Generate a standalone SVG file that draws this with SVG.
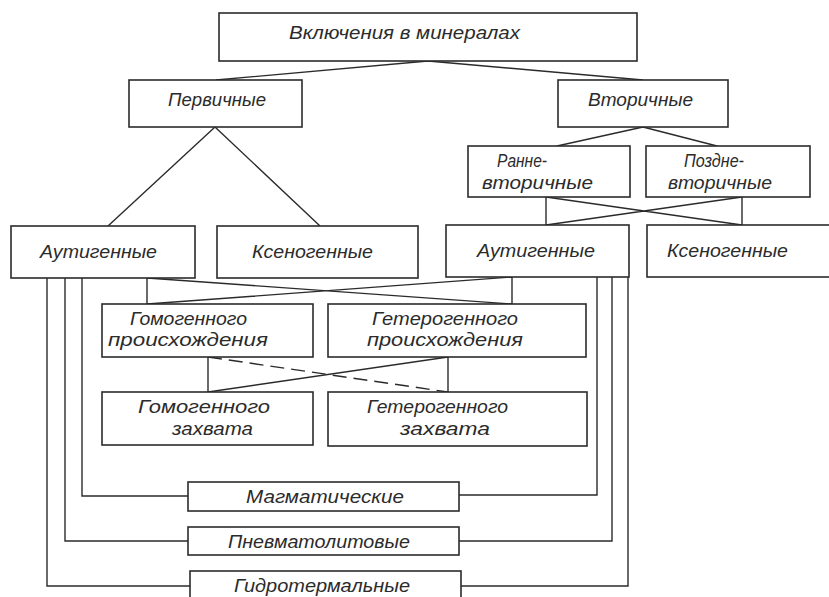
<svg xmlns="http://www.w3.org/2000/svg" width="829" height="597" viewBox="0 0 829 597">
<style>
.b{fill:#fff;stroke:#2b2b2b;stroke-width:1.6}
.t{font-family:"Liberation Sans","DejaVu Sans",sans-serif;font-style:italic;font-size:18px;fill:#2b2b2b}
.c{fill:none;stroke:#2b2b2b;stroke-width:1.4}
.d{fill:none;stroke:#2b2b2b;stroke-width:1.4;stroke-dasharray:14 7}
</style>
<rect width="829" height="597" fill="#fff"/>
<g id="connectors">
<path class="c" d="M428,61 L216,80 M428,61 L643,80"/>
<path class="c" d="M215,127 L108,226 M215,127 L320,226"/>
<path class="c" d="M643,127 L557,146 M643,127 L717,146"/>
<path class="c" d="M546,197 V225 M742,197 V225 M546,197 L742,225 M546,225 L742,197"/>
<path class="c" d="M147,278 V304 M512,277 V304 M147,278 L512,304 M147,304 L512,277"/>
<path class="c" d="M208,357 V392 M448,357 V392 M208,392 L448,357"/>
<path class="d" d="M208,357 L448,392"/>
<path class="c" d="M82,278 V496 H188 M65,278 V541 H188 M47,278 V586 H190"/>
<path class="c" d="M597,277 V495 H459 M612,277 V541 H459 M628,277 V586 H461"/>
</g>
<g id="n-root"><rect class="b" x="219" y="13" width="418" height="48"/><text class="t" x="289" y="39" textLength="231" lengthAdjust="spacingAndGlyphs">Включения в минералах</text></g>
<g id="n-perv"><rect class="b" x="129" y="80" width="173" height="47"/><text class="t" x="168" y="106" textLength="98" lengthAdjust="spacingAndGlyphs">Первичные</text></g>
<g id="n-vtor"><rect class="b" x="558" y="80" width="170" height="47"/><text class="t" x="588" y="106" textLength="105" lengthAdjust="spacingAndGlyphs">Вторичные</text></g>
<g id="n-ranne"><rect class="b" x="468" y="146" width="162" height="51"/><text class="t" x="497" y="167" textLength="50" lengthAdjust="spacingAndGlyphs">Ранне-</text><text class="t" x="482" y="189" textLength="111" lengthAdjust="spacingAndGlyphs">вторичные</text></g>
<g id="n-pozdne"><rect class="b" x="646" y="146" width="164" height="51"/><text class="t" x="684" y="167" textLength="60" lengthAdjust="spacingAndGlyphs">Поздне-</text><text class="t" x="668" y="189" textLength="104" lengthAdjust="spacingAndGlyphs">вторичные</text></g>
<g id="n-aut1"><rect class="b" x="11" y="226" width="184" height="52"/><text class="t" x="40" y="258" textLength="117" lengthAdjust="spacingAndGlyphs">Аутигенные</text></g>
<g id="n-ksen1"><rect class="b" x="217" y="226" width="201" height="52"/><text class="t" x="252" y="258" textLength="121" lengthAdjust="spacingAndGlyphs">Ксеногенные</text></g>
<g id="n-aut2"><rect class="b" x="446" y="225" width="183" height="52"/><text class="t" x="477" y="257" textLength="118" lengthAdjust="spacingAndGlyphs">Аутигенные</text></g>
<g id="n-ksen2"><rect class="b" x="647" y="225" width="186" height="52"/><text class="t" x="667" y="257" textLength="121" lengthAdjust="spacingAndGlyphs">Ксеногенные</text></g>
<g id="n-gomo-pr"><rect class="b" x="102" y="304" width="211" height="53"/><text class="t" x="130" y="325" textLength="117" lengthAdjust="spacingAndGlyphs">Гомогенного</text><text class="t" x="108" y="346" textLength="160" lengthAdjust="spacingAndGlyphs">происхождения</text></g>
<g id="n-getero-pr"><rect class="b" x="328" y="304" width="258" height="53"/><text class="t" x="372" y="325" textLength="146" lengthAdjust="spacingAndGlyphs">Гетерогенного</text><text class="t" x="367" y="346" textLength="156" lengthAdjust="spacingAndGlyphs">происхождения</text></g>
<g id="n-gomo-zah"><rect class="b" x="102" y="392" width="211" height="53"/><text class="t" x="138" y="413" textLength="132" lengthAdjust="spacingAndGlyphs">Гомогенного</text><text class="t" x="172" y="435" textLength="81" lengthAdjust="spacingAndGlyphs">захвата</text></g>
<g id="n-getero-zah"><rect class="b" x="328" y="392" width="259" height="54"/><text class="t" x="367" y="413" textLength="141" lengthAdjust="spacingAndGlyphs">Гетерогенного</text><text class="t" x="400" y="435" textLength="90" lengthAdjust="spacingAndGlyphs">захвата</text></g>
<g id="n-magm"><rect class="b" x="188" y="482" width="271" height="29"/><text class="t" x="246" y="503" textLength="158" lengthAdjust="spacingAndGlyphs">Магматические</text></g>
<g id="n-pnevm"><rect class="b" x="188" y="527" width="271" height="28"/><text class="t" x="228" y="548" textLength="182" lengthAdjust="spacingAndGlyphs">Пневматолитовые</text></g>
<g id="n-gidro"><rect class="b" x="190" y="571" width="271" height="30"/><text class="t" x="234" y="592" textLength="176" lengthAdjust="spacingAndGlyphs">Гидротермальные</text></g>
</svg>
